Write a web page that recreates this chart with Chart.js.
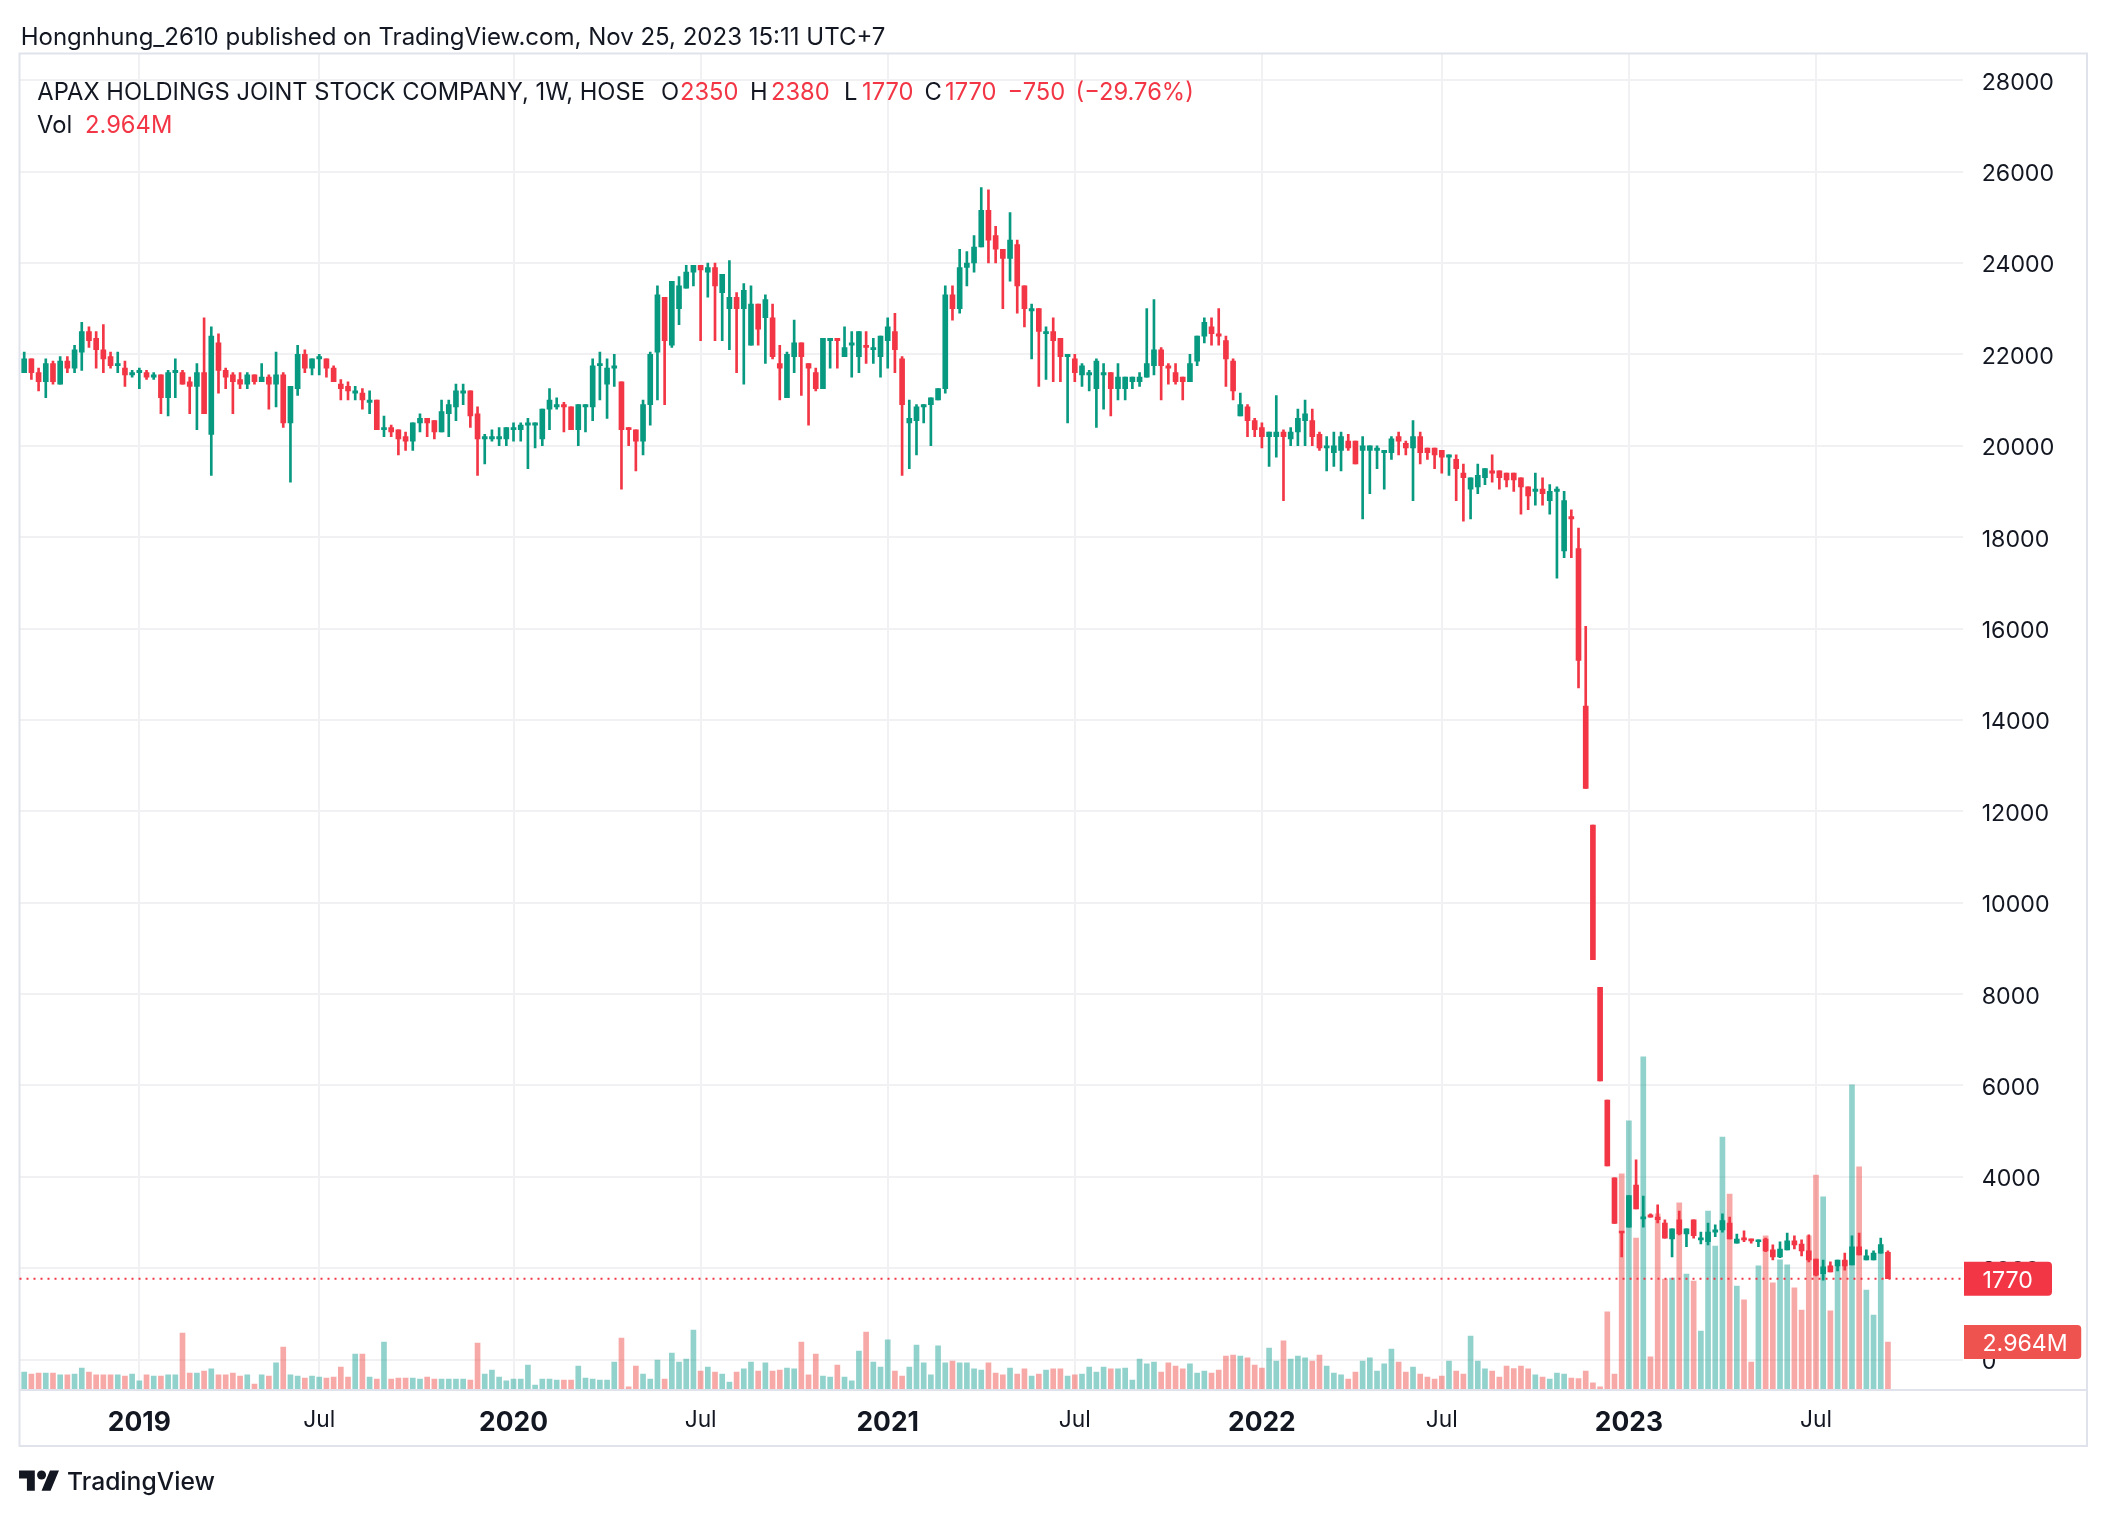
<!DOCTYPE html>
<html><head><meta charset="utf-8">
<script src="https://cdn.jsdelivr.net/npm/chart.js@4.4.0/dist/chart.umd.min.js"></script>
<style>
html,body{margin:0;padding:0;background:#fff;}
#wrap{position:relative;width:2108px;height:1516px;overflow:hidden;font-family:Inter,"Noto Sans","DejaVu Sans",sans-serif;color:#131722;}
#c{position:absolute;left:0;top:0;}
.t{position:absolute;white-space:nowrap;line-height:1;}
</style></head>
<body><div id="wrap"><canvas id="c" width="2108" height="1516"></canvas></div>
<script>
// ---------------- DATA (weekly bars, APAX / HOSE) ----------------
const opens = [21600,21900,21600,21400,21800,21350,21850,21700,22050,22500,
22350,22100,21950,21750,21700,21550,21600,21600,21500,21550,
21050,21600,21600,21400,21300,21600,20250,22250,21650,21550,
21450,21350,21550,21400,21500,21350,21550,20500,21250,22000,
21700,21900,21900,21700,21350,21300,21150,21150,20950,21000,
20350,20400,20350,20200,20100,20500,20600,20550,20300,20700,
20850,21150,21200,20700,20150,20150,20150,20150,20350,20350,
20450,20450,20150,20800,20850,20900,20850,20350,20850,20850,
21750,21350,21700,21400,20400,20350,20100,20900,22050,23250,
22200,23000,23450,23800,23950,23800,23900,23350,23000,23250,
23000,22200,23100,22800,22800,21800,21050,21950,22250,21800,
21600,21250,22300,22350,21950,22200,21950,22200,22100,21950,
22300,22500,21900,20500,20550,20850,20900,21000,21250,23300,
23000,23900,24000,24350,25150,24600,24300,24100,24400,23500,
22950,23000,22450,22500,22350,21950,21900,21550,21550,21250,
21550,21600,21250,21250,21400,21400,21500,21750,22100,21750,
21600,21500,21400,21850,22400,22600,22450,22300,21850,20650,
20850,20550,20400,20200,20200,20300,20150,20300,20550,20550,
20250,19950,19850,19900,20100,20100,19900,19900,19900,19850,
19850,20200,20050,19950,20200,19950,19950,19900,19750,19700,
19400,19050,19100,19300,19450,19450,19400,19400,19300,19100,
19000,19050,18800,19000,17700,18450,17750,14300,11700,8150,
5680,3980,2790,2900,3820,3080,3170,3120,2990,2640,
3060,2750,3060,2620,2580,2790,2840,2990,2550,2660,
2640,2580,2640,2400,2250,2400,2600,2530,2380,2200,
1880,2050,2050,2180,2070,2470,2180,2180,2330,2350];

const highs = [22050,21900,21700,21900,21850,21950,21950,22200,22700,22600,
22500,22650,22050,22050,21850,21650,21700,21650,21600,21550,
21650,21900,21650,21500,21800,22800,22600,22450,21700,21600,
21600,21600,21550,21800,21550,22050,21600,21300,22200,22100,
21900,22000,21900,21750,21450,21400,21300,21250,21200,21000,
20650,20450,20350,20300,20500,20700,20600,20550,21000,21000,
21350,21350,21200,20850,20250,20350,20400,20400,20500,20500,
20600,20500,20800,21250,21050,20950,20850,20900,20900,21900,
22050,21900,22000,21400,20400,20350,21000,22050,23500,23250,
23600,23700,23950,23950,23950,24000,24000,23750,24050,23350,
23550,23500,23100,23300,23100,22200,22050,22750,22250,21800,
21700,22350,22350,22350,22600,22500,22500,22500,22350,22400,
22800,22900,21950,21000,20900,20900,21050,21250,23500,23500,
24300,24250,24600,25650,25600,24800,24300,25100,24500,23500,
23100,23000,22600,22800,22350,22000,22000,21800,21650,21900,
21800,21600,21800,21500,21500,21600,23000,23200,22150,21800,
21800,21500,22000,22400,22800,22800,23000,22400,21900,21150,
20900,20600,20500,20300,21100,20350,20400,20800,21000,20800,
20300,20200,20300,20300,20250,20100,20200,20000,20000,19900,
20200,20300,20100,20550,20300,19950,19950,19900,19800,19800,
19600,19300,19600,19500,19800,19450,19400,19400,19300,19100,
19400,19300,19150,19100,19000,18600,18200,16050,11700,8150,
5680,3980,2790,3590,4370,3580,3190,3390,3060,2860,
3250,2860,3060,2790,2990,2950,3190,3120,2750,2820,
2640,2620,2660,2510,2580,2770,2710,2620,2730,2200,
2180,2140,2180,2330,2710,2770,2400,2380,2660,2380];

const lows = [21600,21450,21200,21050,21350,21350,21600,21600,21650,22150,
21700,21600,21700,21600,21300,21500,21250,21450,21450,20700,
20650,21050,21350,20700,20350,20700,19350,21150,21250,20700,
21250,21250,21350,21400,20800,20850,20400,19200,21100,21600,
21550,21550,21500,21400,21000,21000,21000,20800,20700,20350,
20200,20200,19800,19900,19900,20300,20200,20150,20300,20200,
20550,20900,20400,19350,19600,20100,20000,20000,20100,20100,
19500,19950,20000,20350,20800,20300,20350,20000,20300,20550,
21000,20600,21300,19050,20000,19450,19800,20450,21000,20900,
22150,22650,23450,23500,22300,23250,22300,22300,22100,21600,
21350,22200,22200,21800,21900,21000,21050,21600,21100,20450,
21200,21250,21700,21700,21950,21500,21600,21800,21800,21500,
21700,21600,19350,19500,19800,20500,20000,21000,21150,22750,
22900,23500,23800,24350,24000,24000,23000,23600,22900,22600,
21900,21300,21450,21400,21400,20500,21400,21300,21200,20400,
20800,20650,21000,21000,21250,21300,21500,21550,21000,21350,
21350,21000,21400,21750,22250,22200,22200,21300,21000,20650,
20200,20200,19950,19550,19750,18800,20000,20000,20000,20000,
19900,19450,19550,19450,19900,19600,18400,18950,19500,19050,
19700,19800,19800,18800,19600,19700,19500,19400,19350,18800,
18350,18400,18950,19150,19200,19050,19100,19000,18500,18600,
18700,18700,18500,17100,17550,17550,14700,12500,8750,6100,
4240,2980,2250,2900,3300,2900,3120,2990,2660,2250,
2730,2470,2660,2530,2510,2690,2790,2640,2550,2580,
2550,2470,2360,2180,2230,2400,2420,2270,2140,1830,
1740,1920,1940,1960,2070,2290,2180,2180,2330,1770];

const closes = [21900,21600,21400,21800,21400,21850,21700,22100,22500,22300,
22100,21900,21750,21800,21550,21600,21650,21500,21550,21050,
21600,21650,21350,21300,21600,20700,22400,21650,21500,21400,
21350,21550,21400,21500,21350,21550,20500,21300,22000,21700,
21900,21950,21700,21400,21250,21200,21200,21000,21000,20350,
20400,20300,20150,20100,20500,20600,20500,20300,20750,20900,
21200,21200,20650,20150,20200,20200,20200,20400,20400,20450,
20500,20500,20800,21000,20900,20850,20350,20900,20900,21750,
21800,21700,21750,20350,20350,20100,20900,22000,23300,22300,
23600,23500,23800,23950,23850,23900,23500,23750,23250,23000,
23400,23100,22550,23200,21950,21700,22000,22250,21950,21700,
21250,22350,22350,22300,22150,22250,22500,22150,22150,22400,
22600,22100,20900,20600,20850,20900,21050,21250,23300,23000,
23900,24000,24350,25150,24500,24300,24100,24500,23500,23000,
23000,22500,22500,22300,21950,22000,21600,21750,21600,21850,
21600,21250,21500,21500,21500,21500,21800,22100,21750,21700,
21400,21400,21800,22400,22700,22450,22400,21900,21200,20900,
20550,20350,20200,20300,20300,20200,20300,20600,20700,20200,
19950,20000,20000,20200,19950,19600,20000,20000,19950,19900,
20150,20100,19950,20200,19850,19850,19800,19750,19800,19500,
19300,19300,19350,19500,19400,19300,19250,19250,19100,18900,
19050,18950,19000,19050,18800,18400,15300,12500,8750,6100,
4240,2980,2770,3590,3300,3120,3120,3060,2660,2860,
2750,2860,2710,2660,2790,2840,3040,2640,2640,2620,
2600,2620,2380,2250,2420,2600,2510,2380,2180,1850,
2030,1920,2180,2050,2470,2290,2270,2330,2520,1770];

// volume in millions of shares
const volumes = [1.11,0.99,1.05,1.05,1.05,0.93,0.93,0.99,1.36,1.11,
0.93,0.93,0.93,0.93,0.86,0.99,0.56,0.93,0.86,0.86,
0.93,0.93,3.52,1.05,1.05,1.17,1.30,0.93,0.93,1.05,
0.86,0.93,0.37,0.93,0.86,1.67,2.65,0.93,0.86,0.74,
0.86,0.80,0.74,0.80,1.42,0.80,2.22,2.22,0.80,0.68,
2.96,0.68,0.74,0.74,0.74,0.68,0.80,0.68,0.68,0.68,
0.68,0.68,0.62,2.90,0.99,1.23,0.80,0.56,0.68,0.68,
1.54,0.31,0.68,0.68,0.62,0.62,0.62,1.48,0.74,0.68,
0.62,0.62,1.73,3.21,0.19,1.48,0.99,0.68,1.85,0.68,
2.28,1.73,1.91,3.70,1.17,1.42,1.11,0.99,0.49,1.11,
1.30,1.73,1.17,1.67,1.17,1.23,1.36,1.30,2.96,0.93,
2.22,0.86,0.80,1.54,0.80,0.56,2.41,3.58,1.73,1.42,
3.09,1.17,0.86,1.42,2.78,1.67,0.93,2.72,1.67,1.79,
1.67,1.67,1.30,1.23,1.67,1.05,0.93,1.36,0.99,1.30,
0.86,0.99,1.23,1.30,1.30,0.86,0.93,0.99,1.42,1.11,
1.42,1.30,1.30,1.36,0.62,1.91,1.61,1.73,1.11,1.67,
1.48,1.30,1.61,1.05,1.17,1.05,1.23,2.10,2.16,2.10,
1.98,1.54,1.36,2.59,1.79,3.03,1.91,2.10,1.98,1.79,
2.16,1.48,1.05,0.93,0.68,1.11,1.79,1.98,1.17,1.61,
2.53,1.73,1.11,1.42,0.99,0.80,0.68,0.86,1.79,1.17,
0.99,3.33,1.79,1.30,1.17,0.80,1.48,1.32,1.48,1.30,
0.93,0.80,0.68,1.05,0.99,0.74,0.70,1.17,0.45,0.19,
4.82,0.99,13.34,16.61,9.38,20.56,2.04,10.87,6.85,6.91,
11.55,7.16,6.73,3.64,11.05,8.89,15.62,12.10,6.42,5.56,
1.73,7.66,9.51,6.61,8.03,7.72,6.30,4.94,9.51,13.27,
11.92,4.88,7.66,7.96,18.83,13.77,6.17,4.63,8.46,2.964];

// time-axis labels: bar index where each label sits
const xTickIdx    = [16, 41, 68, 94, 120, 146, 172, 197, 223, 249];
const xTickLabels = ['2019','Jul','2020','Jul','2021','Jul','2022','Jul','2023','Jul'];
// price-axis ticks
const priceTicks = [0,2000,4000,6000,8000,10000,12000,14000,16000,18000,20000,22000,24000,26000,28000];

const symbolTitle = 'APAX HOLDINGS JOINT STOCK COMPANY, 1W, HOSE';
const publishLine = 'Hongnhung_2610 published on TradingView.com, Nov 25, 2023 15:11 UTC+7';

// ---------------- STYLE ----------------
const FAM = 'Inter, "Noto Sans", "DejaVu Sans", sans-serif';
const TXT = '#131722', UP = '#089981', DN = '#F23645';
const VUP = 'rgba(38,166,154,0.5)', VDN = 'rgba(239,83,80,0.5)';
const GRID = '#F1F1F3', BORDER = '#E0E3EB';
const X_MIN = -0.653, X_MAX = 269.43;
const Y_MIN = -665, Y_MAX = 28584;
const VMAX = 82.5;

const mctx = document.createElement('canvas').getContext('2d');
function textW(t, w, sz){ mctx.font = w + ' ' + sz + 'px ' + FAM; return mctx.measureText(t).width; }
function fit(t, w, target){ return 100 * target / textW(t, w, 100); }

const wrap = document.getElementById('wrap');
function place(text, left, cy, size, color, weight){
  const d = document.createElement('div');
  d.className = 't'; d.textContent = text;
  d.style.left = left + 'px'; d.style.top = (cy - size * 0.5) + 'px';
  d.style.fontSize = size + 'px'; d.style.color = color; d.style.fontWeight = weight || 400;
  wrap.appendChild(d);
  return d;
}

const N = closes.length;
const last = N - 1;
const minus = v => (v < 0 ? '\u2212' : '') + Math.abs(v);
const chg = closes[last] - closes[last - 1];
const pct = (chg / closes[last - 1] * 100);
const volTxt = volumes[last].toFixed(3) + 'M';

// header
const hs = fit(publishLine, 400, 865);
place(publishLine, 20.7, 36.8, hs, TXT);
// legend
const ls = fit(symbolTitle, 400, 608);
const LY = 91.6, VY = 124.8;
place(symbolTitle, 37.3, LY, ls, TXT);
place('O', 661, LY, ls, TXT); place(String(opens[last]), 680, LY, ls, DN);
place('H', 750, LY, ls, TXT); place(String(highs[last]), 771, LY, ls, DN);
place('L', 844, LY, ls, TXT); place(String(lows[last]), 862, LY, ls, DN);
place('C', 924.5, LY, ls, TXT); place(String(closes[last]), 945, LY, ls, DN);
place(minus(chg), 1007.5, LY, ls, DN);
place('(' + (pct < 0 ? '\u2212' : '') + Math.abs(pct).toFixed(2) + '%)', 1075.5, LY, ls, DN);
place('Vol', 37, VY, ls, TXT);
place(volTxt, 85, VY, ls, DN);
// footer logo
const logo = document.createElementNS('http://www.w3.org/2000/svg','svg');
logo.setAttribute('viewBox','0 0 36 28'); logo.setAttribute('width','40.6'); logo.setAttribute('height','31.5');
logo.style.position='absolute'; logo.style.left='19px'; logo.style.top='1466px';
logo.innerHTML = '<path fill="#131722" d="M14 22H7V11H0V4h14v18zM28 22h-8l7.5-18h8L28 22z"/><circle fill="#131722" cx="20" cy="8" r="4"/>';
wrap.appendChild(logo);
const tvs = fit('TradingView', 500, 148);
place('TradingView', 67, 1481.5, tvs, TXT, 500);

// axis fonts
const axFs = fit('28000', 400, 72.3);
const xFsB = fit('2019', 700, 63);
const xFs = fit('Jul', 400, 32);
const xPad = 1421.5 - 1390 - 0.6 * (xFsB + xFs) / 2;

const isUp = closes.map((c, i) => c >= opens[i]);

function tag(c, x, y, text, bg, minW){
  c.font = axFs + 'px ' + FAM;
  const w = Math.max(minW, 18.5 + c.measureText(text).width + 13.5), h = 34;
  c.fillStyle = bg;
  c.beginPath();
  if (c.roundRect) c.roundRect(x, y - h / 2, w, h, [0, 4, 4, 0]); else c.rect(x, y - h / 2, w, h);
  c.fill();
  c.fillStyle = '#fff'; c.textAlign = 'left'; c.textBaseline = 'middle';
  c.fillText(text, x + 18.5, y + 2);
}

const framePlugin = {
  id: 'frame',
  afterDraw(chart){
    const c = chart.ctx, ca = chart.chartArea;
    const right = chart.scales.y.right, bottom = chart.scales.x.bottom;
    c.save();
    c.strokeStyle = BORDER; c.lineWidth = 2;
    c.strokeRect(ca.left, ca.top, right - ca.left, bottom - ca.top);
    c.beginPath(); c.moveTo(ca.left, ca.bottom); c.lineTo(right, ca.bottom); c.stroke();
    const py = chart.scales.y.getPixelForValue(closes[last]);
    c.strokeStyle = DN; c.setLineDash([2, 5]);
    c.beginPath(); c.moveTo(ca.left, py); c.lineTo(ca.right, py); c.stroke();
    c.setLineDash([]);
    tag(c, ca.right + 1, py, String(closes[last]), DN, 88);
    const vy = chart.scales.yv.getPixelForValue(volumes[last]);
    tag(c, ca.right + 1, vy, volTxt, '#EF5350', 116);
    c.restore();
  }
};

Chart.defaults.font.family = FAM;
new Chart(document.getElementById('c').getContext('2d'), {
  type: 'bar',
  data: { datasets: [
    { label: 'body', data: opens.map((o, i) => ({x: i, y: [o, closes[i]]})),
      backgroundColor: isUp.map(u => u ? UP : DN), barThickness: 5, minBarLength: 2,
      grouped: false, order: 1, yAxisID: 'y', borderWidth: 0 },
    { label: 'wick', data: lows.map((l, i) => ({x: i, y: [l, highs[i]]})),
      backgroundColor: isUp.map(u => u ? UP : DN), barThickness: 2, minBarLength: 1,
      grouped: false, order: 2, yAxisID: 'y', borderWidth: 0 },
    { label: 'vol', data: volumes.map((v, i) => ({x: i, y: v})),
      backgroundColor: isUp.map(u => u ? VUP : VDN), barThickness: 5,
      grouped: false, order: 3, yAxisID: 'yv', borderWidth: 0 }
  ]},
  options: {
    responsive: false, animation: false, devicePixelRatio: 1, events: [],
    layout: { padding: { left: 19.5, top: 53.5, right: 21, bottom: 70 } },
    plugins: { legend: { display: false }, tooltip: { enabled: false } },
    scales: {
      x: { type: 'linear', min: X_MIN, max: X_MAX, offset: false,
        grid: { color: GRID, lineWidth: 2, drawTicks: false, offset: false }, border: { display: false },
        afterBuildTicks: s => { s.ticks = xTickIdx.map(v => ({value: v})); },
        afterFit: s => { s.height = 56; },
        ticks: { autoSkip: false, maxRotation: 0, minRotation: 0, padding: xPad, color: TXT,
          callback: v => xTickLabels[xTickIdx.indexOf(v)],
          font: ctx => /^\d{4}$/.test(xTickLabels[ctx.index] || '') ?
            { family: FAM, size: xFsB, weight: 'bold' } : { family: FAM, size: xFs, weight: 'normal' } } },
      y: { type: 'linear', position: 'right', min: Y_MIN, max: Y_MAX,
        grid: { color: GRID, lineWidth: 2, drawTicks: false }, border: { display: false },
        afterBuildTicks: s => { s.ticks = priceTicks.map(v => ({value: v})); },
        afterFit: s => { s.width = 124; },
        ticks: { padding: 18.7, labelOffset: 2.5, color: TXT, font: { family: FAM, size: axFs }, callback: v => String(v) } },
      yv: { type: 'linear', display: false, min: 0, max: VMAX }
    }
  },
  plugins: [framePlugin]
});
</script>
</body></html>
